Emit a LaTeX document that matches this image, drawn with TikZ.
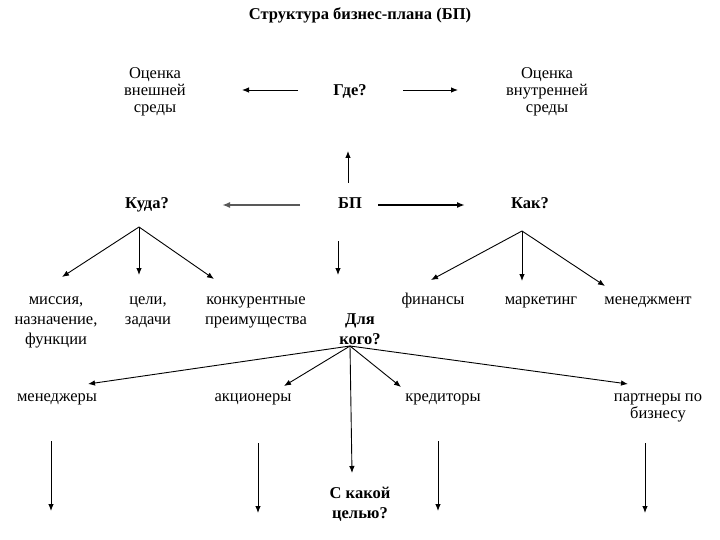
\documentclass[tikz,border=0pt]{standalone}
\usepackage{fontspec}
\setmainfont{Liberation Serif}
\usetikzlibrary{arrows.meta}
\begin{document}
\begin{tikzpicture}[x=1pt,y=-1pt,
  txt/.style={font=\fontsize{16.5}{17}\selectfont, align=center, inner sep=0pt},
  txtb/.style={font=\fontsize{16.5}{17}\selectfont\bfseries, align=center, inner sep=0pt},
  txtw/.style={font=\fontsize{16.5}{20}\selectfont, align=center, inner sep=0pt},
  txtwb/.style={font=\fontsize{16.5}{20}\selectfont\bfseries, align=center, inner sep=0pt},
  arr/.style={-{Latex[length=7pt,width=5.5pt]}, line width=0.9pt},
  thickarr/.style={-{Latex[length=8pt,width=6pt]}, line width=1.7pt}]
\useasboundingbox (0,0) rectangle (720,540);
\fill[white] (0,0) rectangle (720,540);
% title
\node[txtb] (title) at (360,16) {\strut Структура бизнес-плана (БП)};
% top row
\node[txt] (vnesh) at (155,92) {\strut Оценка\\\strut внешней\\\strut среды};
\node[txtb] (gde) at (350,92) {\strut Где?};
\node[txt] (vnutr) at (547,92) {\strut Оценка\\\strut внутренней\\\strut среды};
\coordinate (g1) at (298,90); \coordinate (g1e) at (242,90);
\coordinate (g2) at (403,90); \coordinate (g2e) at (458,90);
\draw[arr] (g1) -- (g1e);
\draw[arr] (g2) -- (g2e);
% middle row
\node[txtb] (kuda) at (147,205) {\strut Куда?};
\node[txtb] (bp) at (350,205) {\strut БП};
\node[txtb] (kak) at (530,205) {\strut Как?};
\coordinate (u1) at (348,183); \coordinate (u1e) at (348,151);
\draw[arr] (u1) -- (u1e);
\coordinate (b1) at (300,205); \coordinate (b1e) at (222,205);
\coordinate (b2) at (378,205); \coordinate (b2e) at (465,205);
\draw[thickarr, black!65] (b1) -- (b1e);
\draw[thickarr] (b2) -- (b2e);
% kuda fan
\coordinate (kf) at (139,227);
\coordinate (k1) at (62,277); \coordinate (k2) at (139,275); \coordinate (k3) at (214,279);
\draw[arr] (kf) -- (k1);
\draw[arr] (kf) -- (k2);
\draw[arr] (kf) -- (k3);
% down arrow
\coordinate (d1) at (338,241); \coordinate (d1e) at (338,275);
\draw[arr] (d1) -- (d1e);
% kak fan
\coordinate (cf) at (522,231);
\coordinate (c1) at (431,280); \coordinate (c2) at (522,281); \coordinate (c3) at (605,286);
\draw[arr] (cf) -- (c1);
\draw[arr] (cf) -- (c2);
\draw[arr] (cf) -- (c3);
% lower texts
\node[txtw] (missia) at (56,320) {\strut миссия,\\\strut назначение,\\\strut функции};
\node[txtw] (celi) at (148,310) {\strut цели,\\\strut задачи};
\node[txtw] (konk) at (256,310) {\strut конкурентные\\\strut преимущества};
\node[txtw] (fin) at (433,300) {\strut финансы};
\node[txtw] (mark) at (541,300) {\strut маркетинг};
\node[txtw] (men) at (648,300) {\strut менеджмент};
\node[txtwb] (dlya) at (360,330) {\strut Для\\\strut кого?};
% dlya fan
\coordinate (df) at (350,346);
\coordinate (e1) at (88,384); \coordinate (e2) at (284,386); \coordinate (e3) at (352,473);
\coordinate (e4) at (401,387); \coordinate (e5) at (628,384);
\draw[arr] (df) -- (e1);
\draw[arr] (df) -- (e2);
\draw[arr] (df) -- (e3);
\draw[arr] (df) -- (e4);
\draw[arr] (df) -- (e5);
% stakeholders
\node[txt] (mgr) at (57,398) {\strut менеджеры};
\node[txt] (akc) at (253,398) {\strut акционеры};
\node[txt] (kred) at (443,398) {\strut кредиторы};
\node[txt] (part) at (658,407) {\strut партнеры по\\\strut бизнесу};
% bottom down arrows
\coordinate (f1) at (51,441); \coordinate (f1e) at (51,511);
\coordinate (f2) at (258,443); \coordinate (f2e) at (258,513);
\coordinate (f3) at (438,441); \coordinate (f3e) at (438,511);
\coordinate (f4) at (645,443); \coordinate (f4e) at (645,513);
\draw[arr] (f1) -- (f1e);
\draw[arr] (f2) -- (f2e);
\draw[arr] (f3) -- (f3e);
\draw[arr] (f4) -- (f4e);
\node[txtwb] (cel) at (360,504) {\strut С какой\\\strut целью?};
\end{tikzpicture}
\end{document}
